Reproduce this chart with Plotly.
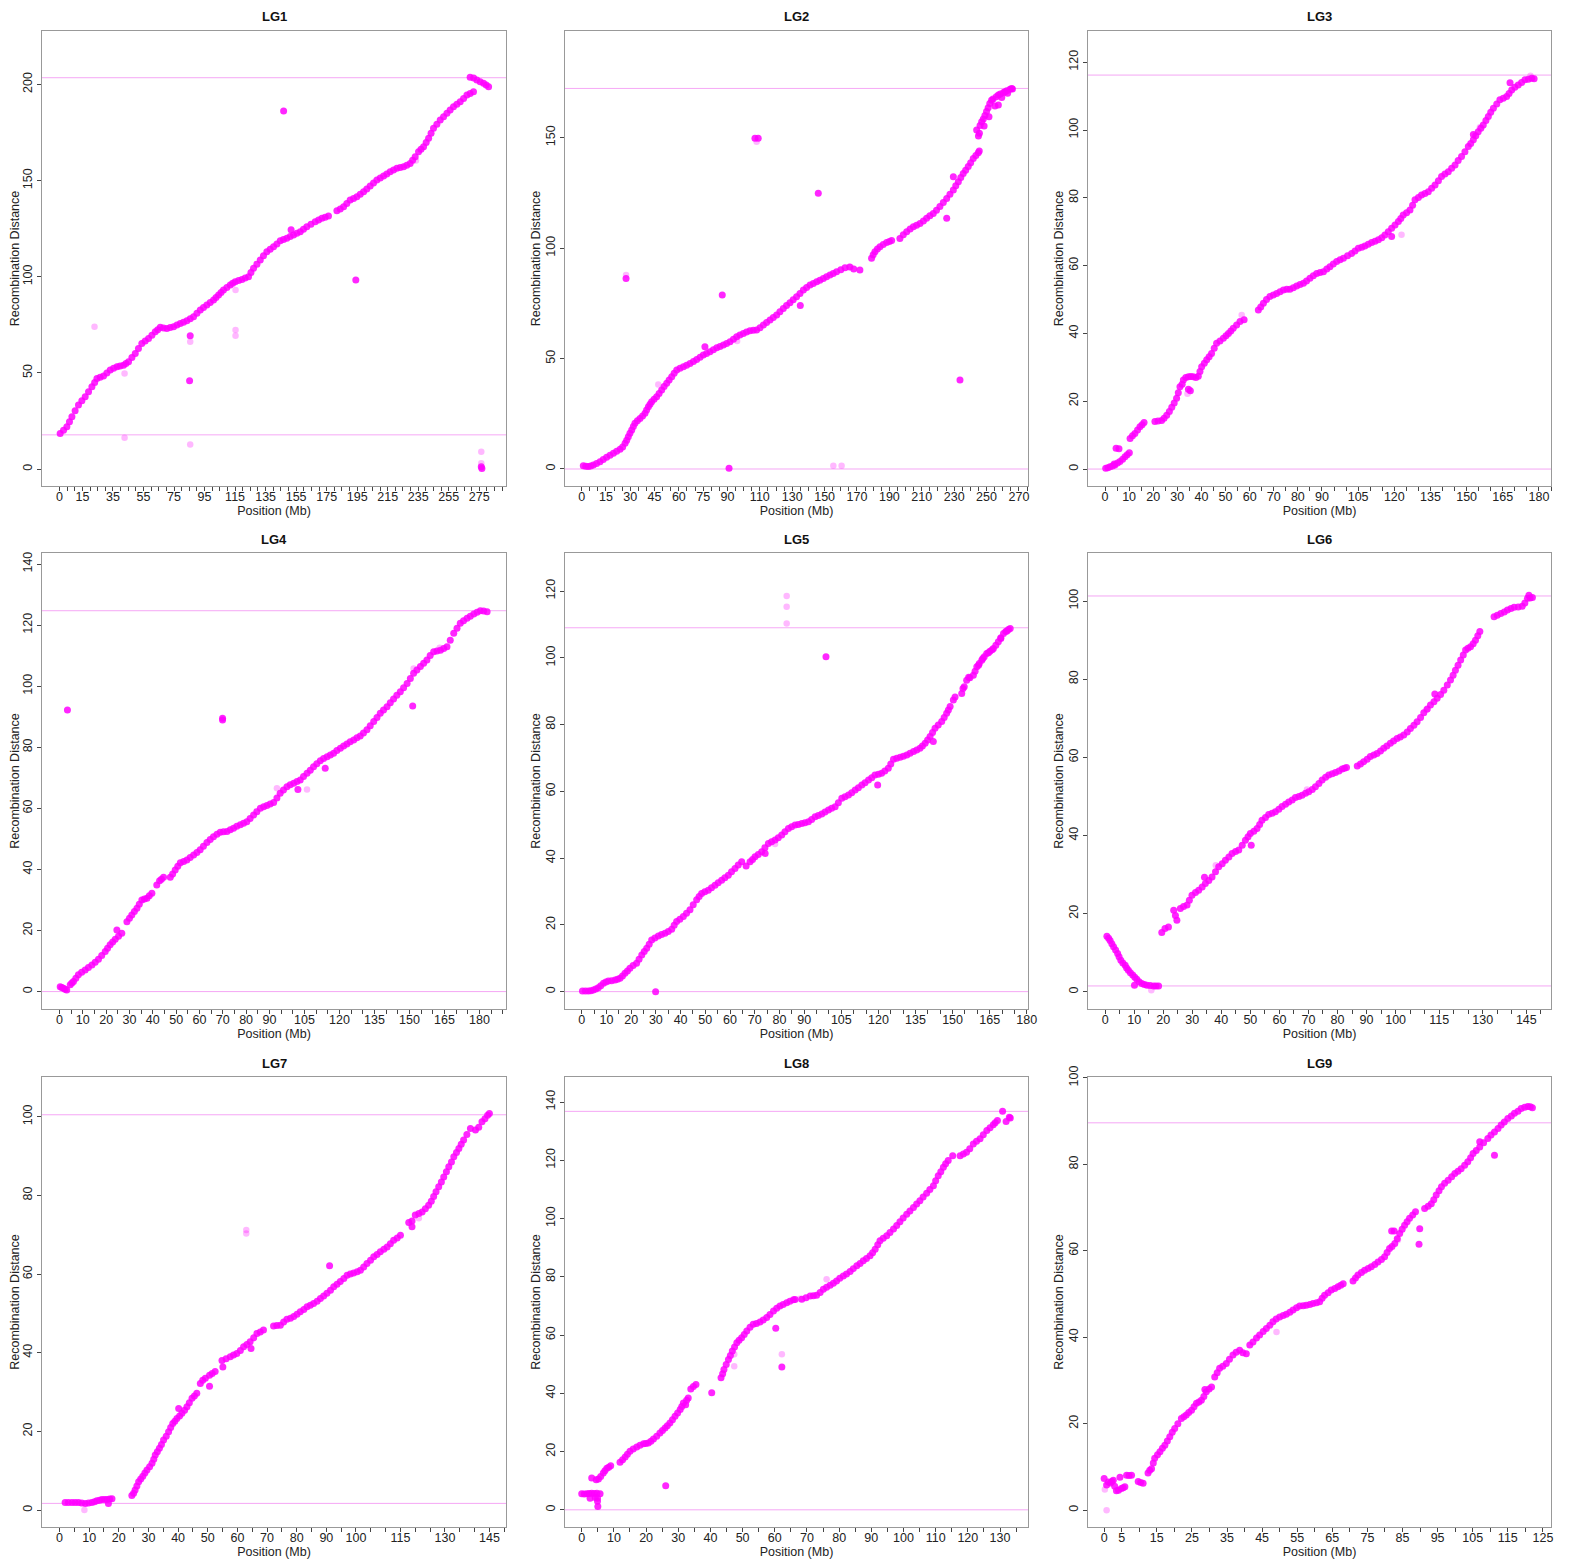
import plotly.graph_objects as go

# ---------------- data ----------------
lg1_x = [0.4, 4.8, 8.1, 12.4, 16.8, 21.2, 24.5, 28.8, 33.2, 37.6, 41.9, 45.2, 49.6, 53.9, 58.3, 62.7, 66, 70.3, 74.7, 79.1,
         83.4, 87.8, 92.2, 96.5, 100.9, 104.2, 107.4, 111.8, 115.1, 119.5, 123.8, 127.1, 131.5, 135.8, 140.2, 144.6, 148.9,
         153.3, 157.7, 162, 167.5, 171.9, 176.2, 181.7, 186.1, 190.4, 194.8, 199.2, 203.5, 207.9, 212.3, 216.6, 221, 225.4,
         229.7, 233, 235.2, 238.5, 241.8, 245, 249.4, 253.8, 258.1, 262.5, 266.9, 271.2, 269, 273.4, 277.8, 281.1,
         276.3, 276.7, 146.8, 194.1, 85.2, 85.6, 2.6, 6.5, 10.2, 14.6, 19, 23, 26.6, 31, 35.4, 39.7, 43.5, 47.4, 51.7,
         56.1, 60.5, 64.3, 68.1, 72.5, 76.9, 81.2, 85.6, 90, 94.3, 98.7, 102.5, 105.8, 109.6, 113.4, 117.3, 121.6, 125.4,
         129.3, 133.6, 138, 142.4, 146.7, 151.1, 155.5, 159.8, 164.7, 169.7, 174, 183.9, 188.2, 192.6, 197, 201.3, 205.7,
         210.1, 214.4, 218.8, 223.2, 227.5, 231.3, 236.8, 240.2, 243.4, 247.2, 251.6, 255.9, 260.3, 264.7, 269, 271.3,
         275.6, 279.5, 151.7]
lg1_y = [18.5, 22, 27.2, 33.3, 37.6, 42.8, 47.1, 48.4, 51.5, 53.2, 54, 55.8, 60.1, 65.3, 67.9, 71.4, 73.7, 73.1, 74, 75.7,
         77.1, 79.2, 82.7, 85.3, 87.9, 90.5, 93.1, 95.7, 97.4, 98.6, 100, 104.4, 108.7, 113, 115.6, 118.7, 120,
         121.7, 123.4, 126, 128.6, 130.4, 131.6, 134.3, 136.4, 139.9, 141.6, 144.2, 147.2, 150.3, 152.4, 154.6, 156.4, 157.2,
         158.9, 162.4, 165, 167.6, 172, 177.2, 181.5, 185, 188.4, 191, 194.5, 196.2, 203.7, 202.3, 200.6, 198.8,
         1.2, 0.3, 186.2, 98.3, 45.9, 69.3, 20.2, 24.6, 30.3, 35.5, 40.2, 45, 47.8, 50, 52.4, 53.6, 54.9, 58, 62.7,
         66.6, 69.6, 72.5, 73.4, 73.6, 74.9, 76.4, 78.2, 81, 84, 86.6, 89.2, 91.8, 94.4, 96.6, 98, 99.3, 102.2,
         106.5, 110.9, 114.3, 117.1, 119.4, 120.9, 122.6, 124.7, 127.3, 129.5, 131, 135.3, 138.1, 140.7, 142.9, 145.7, 148.7,
         151.3, 153.5, 155.5, 156.8, 158, 160.6, 166.3, 169.8, 174.6, 179.3, 183.2, 186.7, 189.7, 192.7, 195.3, 203.4,
         201.4, 199.7, 124.5]
lg1_faint_x = [22.9, 42.6, 42.6, 85.6, 85.6, 115.3, 115.3, 115.3, 38.5, 233.5, 276.3, 276.3]
lg1_faint_y = [74, 49.7, 16.3, 66.2, 12.8, 72.3, 69.3, 93.1, 53.3, 160.5, 9, 3]
lg1_hlines = [203.5, 17.8]

lg2_x = [1.0, 4.1, 7.2, 11.3, 15.4, 19.6, 23.7, 26.8, 28.8, 30.9, 32.9, 36, 39.1, 41.2, 43.2, 46.3, 49.4, 52.5, 55.6, 58.7,
         62.8, 66.9, 71, 75.1, 79.2, 83.4, 87.5, 91.6, 95.7, 99.8, 103.9, 108, 112.2, 116.3, 120.4, 124.5, 128.6, 132.7,
         136.9, 141, 145.1, 149.2, 153.3, 157.4, 162.6, 171.8, 179, 181.1, 184.2, 188.3, 191.4, 196.5, 200.7, 204.8,
         208.9, 213, 217.1, 221.2, 225.4, 229.5, 232.6, 235.6, 238.7, 241.8, 244.9, 243.9, 247, 250, 253.1, 257.3,
         261.4, 264.5, 27.4, 86.8, 91, 107, 109, 146.1, 225.4, 233.6, 76.1, 229.5, 257.3,
         2.5, 5.6, 9.2, 13.3, 17.5, 21.6, 25.3, 27.8, 29.8, 31.9, 34.4, 37.6, 40.1, 42.2, 44.7, 47.8, 50.9, 54, 57.1,
         60.7, 64.8, 69, 73.1, 77.1, 81.3, 85.4, 89.5, 93.7, 97.7, 101.8, 106, 110.1, 114.2, 118.3, 122.4, 126.5, 130.6,
         134.8, 138.9, 143, 147.1, 151.2, 155.3, 160, 165.5, 168, 180, 182.6, 186.2, 190, 198.6, 202.8, 206.8, 211,
         215, 219.1, 223.3, 227.4, 231, 234.1, 237.1, 240.2, 243.4, 245.5, 248.5, 251.5, 255.2, 259.4, 263, 265.5, 135,
         245, 245.6, 246, 248, 249, 251, 252, 254, 256, 258.5, 260.5, 262.5, 266]
lg2_y = [1.5, 1.1, 1.8, 3.3, 5.3, 7.1, 8.9, 11.6, 14.6, 17.7, 20.7, 22.9, 25.2, 28.2, 30.5, 32.7, 35.8, 38.8, 41.8, 44.8,
         46.3, 47.8, 49.6, 51.6, 53.1, 54.9, 56.1, 57.6, 59.9, 61.4, 62.6, 62.9, 65.2, 67.5, 69.7, 72.7, 75.3, 78,
         81, 83.3, 84.8, 86.3, 87.8, 89.3, 91.1, 90.1, 95.4, 98.4, 100.6, 102.5, 103.4, 104.4, 107.4, 109.7,
         111.2, 113.5, 115.7, 118.8, 122.5, 126.3, 130.1, 133.8, 136.9, 140.6, 143.2, 153.5, 157.2, 161.8, 167, 169.3,
         170.8, 171.9, 86.3, 78.8, 0.3, 149.7, 149.7, 124.8, 113.5, 40.3, 55.4, 132.3, 164.8,
         1.2, 1.3, 2.5, 4.3, 6.2, 8, 10, 13, 16.2, 19.2, 21.8, 24, 26.7, 29.3, 31.6, 34.2, 37.3, 40.3, 43.3,
         45.6, 47, 48.7, 50.6, 52.3, 54, 55.5, 56.8, 58.7, 60.7, 62, 62.8, 64, 66.3, 68.6, 71.2, 74, 76.6,
         79.5, 82.2, 84, 85.5, 87, 88.5, 90.2, 91.5, 90.6, 97, 99.6, 101.6, 103, 106, 108.6, 110.4, 112.3,
         114.6, 117.2, 120.6, 124.4, 128.2, 132, 135.3, 138.7, 141.9, 144, 155.3, 159.5, 164.4, 168.2, 170.1, 172.3, 74,
         150.8, 152, 155.5, 158.5, 160, 163.5, 165.5, 167.5, 168.5, 169.8, 170.5, 171.2, 172]
lg2_faint_x = [155.4, 160.5, 47.3, 108, 27.4, 166, 96]
lg2_faint_y = [1.5, 1.5, 38.3, 148.2, 87.8, 91.5, 58]
lg2_hlines = [172.3, 0]

lg3_x = [0.3, 2.1, 4.1, 6.2, 8.3, 10.1, 10.4, 12.4, 14.5, 16.2, 20.7, 23.5, 25.6, 27.7, 29.7, 31.1, 32.5, 34.6, 36.6,
         38.7, 40.1, 42.2, 44.2, 46.3, 49.1, 51.2, 53.2, 56, 57.7, 63.6, 65.7, 68.4, 71.2, 74, 76.7, 79.5, 82.3, 85,
         87.8, 90.6, 93.3, 96.1, 98.9, 102.3, 105.1, 107.8, 110.6, 113.4, 116.1, 118.9, 121.7, 123.7, 126.5, 128.6,
         131.3, 134.1, 136.9, 139.6, 142.4, 145.2, 147.9, 150.7, 152.8, 154.8, 156.9, 159, 161.1, 163.8, 166.6, 168.7,
         171.4, 174.2, 177, 4.6, 5.8, 34.6, 35.4, 118.9, 168, 152.8, 32, 3.8,
         1.2, 3.1, 5.2, 7.3, 9.2, 11.4, 13.5, 15.4, 22, 24.5, 26.7, 28.7, 30.4, 33.5, 35.6, 37.7, 39.4, 41.2, 43.2,
         45.3, 47.7, 50.2, 52.2, 54.6, 64.6, 67, 69.8, 72.6, 75.4, 78.1, 80.9, 83.6, 86.4, 89.2, 92, 94.7, 97.5, 100.6,
         103.7, 106.5, 109.2, 112, 114.8, 117.5, 120.3, 122.7, 125.1, 127.6, 130, 132.7, 135.5, 138.3, 141, 143.8,
         146.5, 149.3, 151.7, 153.8, 155.9, 158, 160, 162.5, 165.2, 167.6, 170, 172.8, 175.6, 178]
lg3_y = [0.2, 0.7, 1.2, 2.2, 3.6, 4.8, 9, 10.5, 12.5, 13.7, 14, 14.3, 15.9, 18.2, 20.9, 24.3, 26.3, 27.2, 27.2,
         27.4, 30.2, 32.2, 34.1, 37.1, 38.6, 40, 41.5, 43.5, 44, 46.9, 48.9, 50.9, 51.8, 52.8, 53, 54, 54.8, 56.3,
         57.7, 58.2, 59.7, 61.2, 62.2, 63.6, 65.1, 65.8, 66.8, 67.6, 69, 71, 73, 74.9, 76.4, 79.4,
         80.8, 81.8, 83.8, 86.3, 87.7, 89.7, 92.2, 95.1, 97.1, 99.5, 101.5, 104, 106.4, 108.9, 109.9, 111.8,
         113.3, 114.8, 115.3, 6.1, 6.0, 23.5, 23.1, 68.6, 113.9, 98.7, 25, 1.5,
         0.4, 0.9, 1.8, 2.9, 4.2, 9.8, 11.5, 13.1, 14.2, 15, 17, 19.5, 22.5, 27, 27.3, 27, 28.8, 31.2, 33.1,
         35.6, 37.8, 39.3, 40.7, 42.5, 47.8, 50, 51.3, 52.3, 53, 53.5, 54.4, 55.5, 57, 58, 59, 60.5, 61.7, 62.9,
         64.3, 65.4, 66.3, 67.2, 68.2, 70, 72, 73.9, 75.6, 77.8, 80.1, 81.3, 82.8, 85, 87, 88.7,
         91, 93.6, 96, 98.3, 100.5, 102.8, 105.2, 107.7, 109.4, 110.8, 112.6, 114, 115, 115.1]
lg3_faint_x = [123, 56.7, 34.2, 155.5, 176.5]
lg3_faint_y = [69.1, 45.4, 22.2, 100.8, 116]
lg3_hlines = [116.2, 0]

lg4_x = [0.3, 1.7, 3.1, 4.6, 6, 8.1, 11, 13.9, 16.7, 19.6, 21.7, 23.9, 26.7, 28.9, 31, 33.2, 35.3, 37.5, 39.6, 42.9,
         44.6, 47.5, 49.6, 51.8, 54.6, 57.5, 60.3, 63.2, 66, 68.9, 71.8, 74.6, 77.5, 80.3, 83.2, 86.1, 88.9, 91.8,
         94.6, 97.5, 100.4, 103.2, 106.1, 108.9, 111.8, 114.7, 117.5, 120.4, 123.2, 126.1, 128.9, 131.8, 134.7, 137.5,
         140.4, 143.2, 146.1, 149, 151.8, 154.7, 157.5, 160.4, 163.3, 166.1, 169, 171.8, 174.7, 177.6, 180.4, 183.3,
         3.4, 69.9, 69.9, 151.4, 113.9, 102.2, 41.7, 24.6,
         1, 2.4, 5.3, 7, 9.5, 12.4, 15.3, 18.1, 20.6, 22.8, 25.3, 30, 32.1, 34.2, 36.4, 38.5, 43.7, 48.5, 50.7, 53.2,
         56, 58.9, 61.7, 64.6, 67.5, 70.3, 73.2, 76, 78.9, 81.7, 84.6, 87.5, 90.3, 93.2, 96, 98.9, 101.8, 104.6,
         107.5, 110.3, 113.2, 116.1, 118.9, 121.8, 124.6, 127.5, 130.3, 133.2, 136.1, 138.9, 141.8, 144.6, 147.5, 150.4,
         153.2, 156.1, 158.9, 161.8, 164.7, 167.5, 170.4, 173.2, 176.1, 179, 181.8]
lg4_y = [1.6, 1.1, 0.5, 2.2, 3.3, 5.5, 7.1, 8.7, 10.6, 13.1, 15.3, 17.1, 19.1, 22.9, 25.1, 27.3, 30, 30.6, 32.2, 36.3,
         37.4, 37.4, 39.8, 42.2, 43.1, 44.7, 46.4, 48.8, 50.7, 52.2, 52.4, 53.5, 54.6, 55.6, 57.8, 60, 60.9, 61.9,
         64.9, 67.1, 68.2, 69.3, 71.5, 73.6, 75.6, 76.9, 78, 79.7, 81.1, 82.4, 83.7, 85.7, 88.4, 91.1,
         93.3, 95.8, 98.2, 100.9, 104.2, 106.4, 108.6, 111.3, 111.8, 112.9, 117.3, 120.6, 122.2, 123.6, 124.7, 124.4,
         92.2, 88.9, 89.5, 93.5, 73.1, 66.2, 34.9, 20.2,
         1.3, 0.8, 2.8, 4.4, 6.3, 7.9, 9.6, 11.8, 14.2, 16.2, 18.1, 24, 26.2, 28.6, 30.3, 31.4, 36.8, 38.5, 41, 42.6,
         43.9, 45.5, 47.6, 49.8, 51.5, 52.3, 53, 54.1, 55.1, 56.7, 58.9, 60.5, 61.4, 63.4, 66, 67.7, 68.8, 70.4,
         72.5, 74.6, 76.3, 77.5, 78.9, 80.4, 81.8, 83.1, 84.7, 87, 89.7, 92.2, 94.6, 97, 99.5, 102.5,
         105.3, 107.5, 110, 111.5, 112.3, 115, 119, 121.4, 122.9, 124.2, 124.6]
lg4_faint_x = [106.1, 93.2, 151.8, 163]
lg4_faint_y = [66.2, 66.6, 105.8, 112.6]
lg4_hlines = [124.7, 0]

lg5_x = [0.3, 2.7, 4.7, 6.7, 8.8, 10.8, 13.5, 15.5, 17.5, 19.5, 22.2, 24.3, 26.3, 28.3, 31, 33.7, 36.4, 38.4, 41.1,
         43.8, 46.5, 48.5, 51.2, 53.9, 56.6, 59.3, 62, 64.7, 68.1, 70.1, 72.8, 75.5, 78.2, 80.9, 83.6, 86.3, 89,
         91.7, 94.4, 97.1, 99.8, 102.5, 105.2, 107.9, 110.6, 113.3, 116, 118.6, 121.3, 124, 126.1, 128.8, 131.5,
         134.2, 136.8, 138.9, 140.9, 142.9, 145.6, 147.6, 149, 150.3, 153.7, 155.7, 158.4, 159.8, 161.8, 163.8,
         166.5, 168.5, 170.6, 173.3, 29.9, 98.8, 119.7, 142.2, 74.2, 66.5,
         1.5, 3.7, 5.7, 7.7, 9.8, 12.1, 14.5, 16.5, 18.5, 20.8, 23.2, 25.3, 27.3, 29.6, 32.3, 35, 37.4, 39.7, 42.4,
         45.1, 47.5, 49.8, 52.5, 55.2, 57.9, 60.6, 63.3, 69.1, 71.4, 74.1, 76.8, 79.5, 82.2, 84.9, 87.6, 90.3, 93,
         95.7, 98.4, 101.1, 103.8, 106.5, 109.2, 111.9, 114.6, 117.3, 120, 122.6, 125, 127.4, 130.1, 132.8, 135.5,
         137.8, 139.9, 141.9, 144.2, 146.6, 148.3, 154.7, 157, 159.1, 160.8, 162.8, 165.1, 167.5, 169.5, 172, 172.6,
         151, 154.2, 156.5, 160.5, 162.2, 164.5, 166, 169.5, 171.5]
lg5_y = [0.2, 0.2, 0.5, 1.2, 2.5, 3.2, 3.5, 4, 5.5, 7, 8.5, 11, 13, 15.5, 16.7, 17.5, 18.7, 21, 22.5,
         24.5, 27.5, 29.4, 30.4, 31.9, 33.4, 34.9, 36.9, 38.9, 38.9, 40.4, 41.9, 44.4, 45.4, 46.9, 48.9, 49.9, 50.4,
         50.9, 52.4, 53.2, 54.4, 55.4, 57.9, 58.9, 60.4, 61.9, 63.4, 64.9, 65.4, 66.9, 69.6, 70.2, 70.9,
         71.9, 72.9, 74.4, 76.4, 78.9, 80.9, 83.4, 85.4, 87.4, 89.3, 93.3, 94.8, 97.3, 99.3, 101.3,
         102.8, 104.8, 107.3, 108.8, 0, 100.3, 61.9, 74.9, 41.4, 37.6,
         0.2, 0.3, 0.8, 1.8, 2.9, 3.3, 3.7, 4.7, 6.2, 7.8, 9.7, 12, 14.2, 16.1, 17.1, 18, 19.9, 21.7, 23.5,
         26, 28.5, 29.9, 31.1, 32.6, 34.1, 35.9, 37.9, 39.6, 41.1, 43.1, 44.9, 46.1, 47.9, 49.4, 50.1, 50.6, 51.6,
         52.8, 53.8, 54.9, 56.6, 58.4, 59.6, 61.1, 62.6, 64.1, 65.1, 66.1, 68.2, 69.9, 70.5, 71.4, 72.4,
         73.6, 75.4, 77.6, 79.9, 82.1, 84.4, 91.3, 94, 96, 98.3, 100.3, 102, 103.8, 106, 108, 108.5,
         88.3, 90.8, 94.2, 97.8, 99.8, 101.5, 102.4, 105.8, 107.9]
lg5_faint_x = [82.9, 82.9, 82.9, 78.2]
lg5_faint_y = [118.5, 115.3, 110.3, 44.2]
lg5_hlines = [109.0, 0]

lg6_x = [0.6, 1.7, 2.9, 4.3, 5.4, 6.9, 8, 9.5, 10.9, 12.6, 14.4, 16.7, 18.4, 19.5, 21.8, 23.6, 24.7, 25.9, 28.2, 29.9,
         32.2, 34.5, 36.8, 39.1, 41.4, 43.7, 46, 48.3, 50, 52.3, 54, 56.3, 58.6, 60.9, 63.2, 65.5, 67.8, 70.1, 72.4,
         74.7, 77, 79.3, 81.6, 83.1, 86.8, 89, 91.3, 93.6, 95.9, 98.2, 100.5, 102.8, 105.1, 107.4, 109.7, 112, 114.3,
         116.6, 118.9, 120.6, 122.4, 124.1, 125.8, 127.5, 129, 133.9, 136.2, 138.5, 140.8, 143.6, 145.4, 147.1,
         113.5, 50.3, 34.2, 145.9, 10.1,
         1.2, 2.3, 3.6, 4.8, 6.1, 7.4, 8.7, 10.2, 11.7, 13.5, 15.5, 17.5, 20.6, 24.2, 27, 29, 31.1, 33.4, 35.7, 38,
         40.3, 42.6, 44.9, 47.2, 49.2, 51.2, 53.2, 55.2, 57.5, 59.8, 62.1, 64.4, 66.7, 69, 71.3, 73.6, 75.9, 78.2,
         80.5, 82.4, 87.9, 90.2, 92.5, 94.8, 97, 99.3, 101.6, 104, 106.3, 108.6, 110.9, 113.2, 115.5, 117.8, 119.8,
         121.5, 123.3, 124.9, 126.7, 128.3, 135, 137.4, 139.7, 142.2, 144.5, 146.3]
lg6_y = [14.2, 13.1, 11.5, 9.8, 8.1, 6.8, 5.5, 4.3, 3.2, 2.1, 1.7, 1.5, 1.5, 15.2, 16.6, 20.9, 18.3, 21.3, 22.2, 24.7,
         26, 27.7, 29.4, 32, 33.7, 35.4, 36.3, 38.8, 40.5, 41.8, 43.9, 45.4, 46.1, 47.4, 48.6, 49.7, 50.3, 51.2, 52.5,
         54.2, 55.5, 56.1, 57, 57.4, 57.8, 58.9, 60.2, 61, 62.3, 63.6, 64.8, 65.7, 67.4, 69.1, 71.4, 73.4, 75.1,
         77.2, 79.8, 82.3, 84.9, 87.5, 88.3, 90, 92.2, 96, 96.8, 97.7, 98.4, 98.7, 100.7, 100.9,
         76.2, 37.5, 29.3, 101.5, 1.7,
         13.7, 12.3, 10.7, 9, 7.4, 6.1, 4.9, 3.7, 2.6, 1.9, 1.6, 1.5, 16.2, 19.5, 21.8, 23.4, 25.4, 26.8, 28.5, 30.7,
         32.8, 34.5, 35.9, 37.5, 39.7, 41.1, 42.8, 44.6, 45.7, 46.7, 48, 49.1, 50, 50.8, 51.8, 53.3, 54.9, 55.8,
         56.5, 57.2, 58.3, 59.5, 60.6, 61.6, 62.9, 64.2, 65.2, 66.5, 68.2, 70.2, 72.4, 74.2, 76.1, 78.5, 81,
         83.6, 86.2, 87.9, 89.1, 91.1, 96.4, 97.2, 98.1, 98.5, 99.5, 100.8]
lg6_faint_x = [38.1, 15.9, 69.5, 110.5]
lg6_faint_y = [32.4, 0.4, 51.8, 72.1]
lg6_hlines = [101.3, 1.5]

lg7_x = [1.9, 4.2, 6.4, 8.7, 10.9, 12.6, 14.3, 16, 17.7, 24.4, 25.5, 26.7, 28.1, 29.5, 31.2, 32.3, 33.7, 35.1, 36.8,
         38.2, 39.6, 41.3, 43, 44.7, 46.3, 47.5, 49.2, 50.6, 52.5, 54.8, 57.6, 59.8, 62.1, 64.3, 66.6, 68.8, 72.2,
         74.5, 76.7, 79, 81.2, 83.5, 85.7, 88, 90.2, 92.5, 94.7, 97, 99.2, 101.5, 103.7, 106, 108.2, 110.5, 112.7,
         115, 117.8, 120, 122.3, 124.5, 126.2, 127.9, 129.6, 131.3, 133, 134.7, 136.3, 138.6, 140.3, 142.5, 144.4,
         91.1, 16.5, 50.6, 40.2, 55.1, 118.9, 64.6,
         3, 5.3, 7.5, 9.8, 11.8, 13.5, 15.2, 16.9, 25, 26.1, 27.4, 28.8, 30.4, 31.8, 33, 34.4, 36, 37.5, 38.9,
         40.5, 42.2, 43.8, 45.5, 48.3, 51.5, 56.2, 58.7, 61, 63.2, 65.5, 67.7, 73.3, 75.6, 77.9, 80.1, 82.4, 84.6,
         86.9, 89.1, 91.4, 93.6, 95.9, 98.1, 100.4, 102.6, 104.9, 107.1, 109.4, 111.6, 113.9, 118.9, 121.2, 123.4,
         125.4, 127, 128.8, 130.5, 132.2, 133.9, 135.5, 137.4, 141.4, 143.5, 145]
lg7_y = [1.9, 1.9, 1.9, 1.7, 1.9, 2.4, 2.7, 2.7, 2.9, 3.7, 5.1, 7.2, 8.6, 10.2, 11.9, 14, 15.7, 17.8, 19.9,
         22, 23.3, 24.6, 26.3, 28.4, 29.7, 32.2, 33.5, 34.3, 35.2, 38, 39, 39.8, 41.5, 42.8, 44.9, 45.8, 46.8,
         47, 48.5, 49.2, 50.4, 51.7, 52.5, 53.8, 55.1, 56.8, 58.1, 59.7, 60.3, 61, 62.7, 64.4, 65.7, 66.9, 68.6,
         69.9, 73.1, 75, 75.8, 77.5, 79.7, 82.2, 84.7, 87.3, 89.8, 91.9, 94.1, 97, 96.6, 98.7, 100.4,
         62.1, 1.7, 31.5, 25.8, 36.4, 72, 41.1,
         1.9, 1.9, 1.8, 1.8, 2.1, 2.5, 2.7, 2.8, 4.3, 6.1, 7.9, 9.4, 11, 12.9, 14.8, 16.7, 18.8, 21, 22.6,
         23.9, 25.4, 27.3, 29, 33, 34.7, 38.5, 39.4, 40.6, 42.1, 43.8, 45.3, 46.9, 47.8, 48.8, 49.8, 51, 52.1,
         53.1, 54.4, 55.9, 57.4, 58.9, 60, 60.6, 61.8, 63.5, 65, 66.3, 67.7, 69.2, 73.5, 75.4, 76.6,
         78.5, 80.9, 83.4, 86, 88.5, 90.9, 93, 95.5, 97.3, 99.5, 100.8]
lg7_faint_x = [63, 63, 8.4, 121.2]
lg7_faint_y = [71.2, 70.3, 0, 74.2]
lg7_hlines = [100.5, 1.7]

lg8_x = [0, 1.6, 3.1, 4.7, 5.7, 4.9, 5, 2.6, 3.1, 5.2, 6.7, 7.8, 9, 11.9, 13.5, 15, 17.1, 19.2, 20.7, 22.3, 24.3, 25.9,
         27.4, 29, 30.6, 31.6, 33.1, 33.9, 35.5, 40.4, 43.3, 44.2, 45.6, 46.8, 48.2, 49.7, 51.3, 53.3, 55.4, 57.5,
         59.6, 61.6, 63.7, 65.8, 68.4, 71, 73, 75.1, 77.2, 79.2, 81.3, 83.4, 85.5, 87.5, 89.6, 91.2, 92.7, 94.8,
         96.9, 98.9, 101, 103.1, 105.1, 107.2, 109.3, 110.8, 112.4, 113.9, 117.6, 119.6, 121.7, 123.8, 125.9, 127.9,
         129.2, 130.8, 131.9, 132.9, 26.1, 60.3, 62.2, 115.3, 32.3,
         0.8, 2.3, 3.9, 4.2, 4.9, 4.5, 5.9, 7.2, 8.4, 12.7, 14.2, 16, 18.1, 19.9, 21.5, 23.3, 25.1, 26.6, 28.2, 29.8,
         31.1, 32.6, 34.7, 43.8, 44.9, 46.2, 47.5, 48.9, 50.5, 52.3, 54.3, 56.4, 58.5, 60.6, 62.6, 64.7, 66.3,
         69.7, 72, 74.1, 76.1, 78.2, 80.2, 82.3, 84.4, 86.5, 88.5, 90.4, 92, 93.7, 95.8, 97.9, 99.9, 102, 104.1,
         106.1, 108.2, 110, 111.6, 113.1, 118.6, 120.6, 122.7, 124.8, 126.9, 128.5, 133.2]
lg8_y = [5.5, 5.5, 5.7, 5.7, 5.5, 2.9, 1.1, 4, 10.9, 10.6, 12.6, 14.3, 15.1, 16.3, 18.1, 20.1, 21.6, 22.7, 22.9, 24.3,
         26.4, 28.1, 29.8, 32.1, 34.4, 36.7, 38.4, 41.5, 43, 40.2, 45.3, 48.2, 51.6, 54.5, 57.4, 59.1, 61.4, 63.7,
         64.5, 66, 68.3, 70, 71.1, 72.1, 72.3, 73.4, 73.7, 75.7, 77.1, 78.6, 80.3, 81.8, 83.8, 85.5, 87.2, 89.5,
         92.4, 94.1, 96.4, 98.9, 101.5, 103.8, 106.1, 108.7, 111.3, 114.7, 117.6, 119.9, 121.6, 122.8, 125.6,
         127.4, 130.2, 132.2, 133.7, 136.8, 133.3, 134.8, 8.3, 62.3, 49, 121.6, 36.1,
         5.4, 5.6, 5.6, 4.2, 4, 10.3, 11.4, 13.4, 14.6, 17.2, 19.1, 20.9, 22.2, 22.8, 23.5, 25.3, 27.2, 28.9, 30.9,
         33.2, 35.5, 37.6, 42.3, 46.7, 49.9, 53, 55.9, 58.2, 60.2, 62.7, 64, 65.2, 67.1, 69.2, 70.5, 71.6, 72.2,
         72.8, 73.5, 74.6, 76.4, 77.8, 79.5, 81, 82.8, 84.6, 86.3, 88.3, 91, 93.2, 95.2, 97.6, 100.2, 102.6, 105,
         107.4, 110, 113, 116.1, 118.8, 122.2, 124, 126.5, 128.8, 131.2, 132.9, 134.5]
lg8_faint_x = [62.2, 47.4, 47.4, 76.1, 67.8]
lg8_faint_y = [53.4, 49.3, 53.4, 79.2, 72.5]
lg8_hlines = [136.8, 0]

lg9_x = [0, 0.7, 1.8, 2.6, 3.5, 4.9, 5.9, 4.5, 6.4, 7.8, 9.7, 11.1, 12.5, 13.5, 14.4, 15.9, 17.3, 18.7, 20.1, 22, 23.4,
         24.9, 26.3, 27.7, 29.1, 30.6, 31.5, 32.9, 34.8, 36.7, 38.6, 40.5, 42.4, 44.3, 46.2, 48.1, 50, 51.9, 53.8,
         55.7, 57.6, 59.5, 61.4, 62.8, 64.7, 66.6, 68.1, 70.9, 72.3, 74.2, 76.1, 78, 79.9, 81.3, 82.8, 84.2, 85.6,
         87, 88.7, 91.3, 93.2, 94.6, 96.1, 98, 99.9, 101.7, 103.6, 105.1, 107, 109.3, 111.2, 113.1, 115, 116.9,
         118.8, 120.7, 122, 82.6, 81.9, 89.7, 89.9, 111.2, 107, 28.7,
         1.2, 2.2, 3, 4.1, 5.4, 7.1, 10.4, 13, 14, 15.2, 16.6, 18, 19.4, 21, 22.7, 24.1, 25.6, 27, 28.4, 29.9,
         32.2, 33.8, 35.7, 37.6, 39.5, 41.5, 43.4, 45.3, 47.2, 49, 51, 52.9, 54.8, 56.7, 58.6, 60.5, 62.1, 63.8,
         65.7, 67.4, 71.6, 73.3, 75.2, 77.1, 79, 80.6, 82, 83.5, 84.9, 86.3, 87.9, 92.3, 93.9, 95.4, 97, 99, 100.8,
         102.7, 104.4, 106, 108.1, 110.2, 112.2, 114, 116, 117.9, 119.8, 121.4]
lg9_y = [7.3, 5.8, 6.3, 6.9, 4.5, 5, 5.4, 7.6, 8.1, 8.1, 6.6, 6.2, 8.6, 9.6, 12, 13.5, 15, 17, 18.9, 21.2, 22,
         23.1, 24.7, 25.4, 27.4, 28.5, 30.8, 32.8, 33.9, 35.9, 37, 36.2, 38.9, 40.5, 42, 43.6, 44.7, 45.3, 46.3,
         47.2, 47.4, 47.8, 48.2, 49.7, 50.9, 51.7, 52.4, 53, 54.4, 55.5, 56.3, 57.4, 58.6, 60.5, 61.7, 64, 65.9,
         67.5, 69, 69.8, 70.9, 72.9, 74.8, 76.3, 77.9, 79, 80.6, 82.5, 84, 86, 87.5, 89.1, 90.6, 91.8,
         92.9, 93.4, 93.1, 64.6, 64.6, 61.5, 65.1, 82.1, 85.2, 27.9,
         6.5, 6.6, 5.5, 4.6, 5.2, 8, 6.4, 9.2, 10.9, 12.8, 14.3, 16, 18, 20, 21.6, 22.6, 23.9, 25, 26.3, 28,
         31.8, 33.3, 34.9, 36.5, 36.4, 38.2, 39.8, 41.3, 42.8, 44.2, 45, 45.8, 46.8, 47.3, 47.6, 48, 49, 50.3,
         51.3, 52, 53.7, 55, 55.9, 56.8, 58, 59.6, 61, 62.8, 65, 66.7, 68.3, 70.3, 71.8, 73.9, 75.6, 77.1, 78.4,
         79.8, 81.5, 83.2, 85, 86.8, 88.3, 89.8, 91.2, 92.3, 93.2, 93.3]
lg9_faint_x = [0.7, 0.2, 49.1, 83.7]
lg9_faint_y = [0, 4.8, 41.2, 62.5]
lg9_hlines = [89.6]

panel_titles = ["LG1", "LG2", "LG3", "LG4", "LG5", "LG6", "LG7", "LG8", "LG9"]

# x tick labels that are printed (ticks every 5 Mb; other ticks unlabeled)
lg1_xlabels = [0, 15, 35, 55, 75, 95, 115, 135, 155, 175, 195, 215, 235, 255, 275]
lg2_xlabels = [0, 15, 30, 45, 60, 75, 90, 110, 130, 150, 170, 190, 210, 230, 250, 270]
lg3_xlabels = [0, 10, 20, 30, 40, 50, 60, 70, 80, 90, 105, 120, 135, 150, 165, 180]
lg4_xlabels = [0, 10, 20, 30, 40, 50, 60, 70, 80, 90, 105, 120, 135, 150, 165, 180]
lg5_xlabels = [0, 10, 20, 30, 40, 50, 60, 70, 80, 90, 105, 120, 135, 150, 165, 180]
lg6_xlabels = [0, 10, 20, 30, 40, 50, 60, 70, 80, 90, 100, 115, 130, 145]
lg7_xlabels = [0, 10, 20, 30, 40, 50, 60, 70, 80, 90, 100, 115, 130, 145]
lg8_xlabels = [0, 10, 20, 30, 40, 50, 60, 70, 80, 90, 100, 110, 120, 130]
lg9_xlabels = [0, 5, 15, 25, 35, 45, 55, 65, 75, 85, 95, 105, 115, 125]

lg1_ylabels = [0, 50, 100, 150, 200]
lg2_ylabels = [0, 50, 100, 150]
lg3_ylabels = [0, 20, 40, 60, 80, 100, 120]
lg4_ylabels = [0, 20, 40, 60, 80, 100, 120, 140]
lg5_ylabels = [0, 20, 40, 60, 80, 100, 120]
lg6_ylabels = [0, 20, 40, 60, 80, 100]
lg7_ylabels = [0, 20, 40, 60, 80, 100]
lg8_ylabels = [0, 20, 40, 60, 80, 100, 120, 140]
lg9_ylabels = [0, 20, 40, 60, 80, 100]

# ---------------- figure ----------------
PAGE_W, PAGE_H = 1570, 1568
OFF = 8                                   # default body margin of the html page
W, H = PAGE_W - 2 * OFF, PAGE_H - 2 * OFF  # figure size so the page fits the window
col_px = [(42, 506), (565, 1028), (1088, 1551)]   # plot boxes in page pixels
row_px = [(31, 486), (553, 1009), (1077, 1527)]
x_ranges = [[-11.5, 292.5], [-10.3, 275.6], [-7.05, 185], [-7.5, 191.4], [-6.75, 180.5],
            [-5.9, 153.5], [-5.9, 150.6], [-5.2, 138.7], [-4.6, 127.3]]
y_ranges = [[-8.8, 227.8], [-7.7, 198.3], [-5.0, 129.2], [-5.7, 143.6], [-5.2, 131.4],
            [-4.4, 112.3], [-4.3, 110.1], [-5.9, 148.6], [-3.9, 100.2]]


def fx_(p):
    return (p - OFF) / W


def fy_(p):
    return 1 - (p - OFF) / H


panels = [
    (lg1_x, lg1_y, lg1_faint_x, lg1_faint_y, lg1_hlines, lg1_xlabels, lg1_ylabels),
    (lg2_x, lg2_y, lg2_faint_x, lg2_faint_y, lg2_hlines, lg2_xlabels, lg2_ylabels),
    (lg3_x, lg3_y, lg3_faint_x, lg3_faint_y, lg3_hlines, lg3_xlabels, lg3_ylabels),
    (lg4_x, lg4_y, lg4_faint_x, lg4_faint_y, lg4_hlines, lg4_xlabels, lg4_ylabels),
    (lg5_x, lg5_y, lg5_faint_x, lg5_faint_y, lg5_hlines, lg5_xlabels, lg5_ylabels),
    (lg6_x, lg6_y, lg6_faint_x, lg6_faint_y, lg6_hlines, lg6_xlabels, lg6_ylabels),
    (lg7_x, lg7_y, lg7_faint_x, lg7_faint_y, lg7_hlines, lg7_xlabels, lg7_ylabels),
    (lg8_x, lg8_y, lg8_faint_x, lg8_faint_y, lg8_hlines, lg8_xlabels, lg8_ylabels),
    (lg9_x, lg9_y, lg9_faint_x, lg9_faint_y, lg9_hlines, lg9_xlabels, lg9_ylabels),
]

FONT = "Liberation Sans, Arial, Helvetica, sans-serif"
MAG = "rgba(255,0,255,0.85)"
FAINT = "rgba(255,0,255,0.28)"
LINE = "rgba(240,120,240,0.65)"

fig = go.Figure()
layout = dict(width=W, height=H, margin=dict(l=0, r=0, t=0, b=0, autoexpand=False),
              paper_bgcolor="white", plot_bgcolor="white", showlegend=False,
              font=dict(family=FONT, size=12, color="#222"))
annotations = []
shapes = []

for i, (px, py, fx, fy, hl, xl, yl) in enumerate(panels):
    r, c = divmod(i, 3)
    n = "" if i == 0 else str(i + 1)
    xa, ya = "x" + n, "y" + n
    x0, x1 = col_px[c]
    y0, y1 = row_px[r]
    xmax = x_ranges[i][1]
    tv = list(range(0, int(xmax) + 1, 5))
    tt = [str(v) if v in xl else "" for v in tv]
    layout["xaxis" + n] = dict(
        domain=[fx_(x0), fx_(x1)], range=x_ranges[i], anchor=ya, automargin=False,
        tickmode="array", tickvals=tv, ticktext=tt, ticks="outside", ticklen=4,
        tickcolor="#444", tickfont=dict(size=12.5, color="#222"), ticklabelstandoff=-5,
        showgrid=False, zeroline=False, showline=True, mirror=True, linecolor="#999", linewidth=1,
        title=dict(text="Position (Mb)", font=dict(size=12.5, color="#222"), standoff=0),
    )
    layout["yaxis" + n] = dict(
        domain=[fy_(y1), fy_(y0)], range=y_ranges[i], anchor=xa, automargin=False,
        tickmode="array", tickvals=yl, ticktext=[str(v) for v in yl], ticks="outside", ticklen=4,
        tickcolor="#444", tickangle=-90, tickfont=dict(size=12.5, color="#222"),
        showgrid=False, zeroline=False, showline=True, mirror=True, linecolor="#999", linewidth=1,
        title=dict(text="Recombination Distance", font=dict(size=12.5, color="#222"), standoff=0),
    )
    for h in hl:
        shapes.append(dict(type="line", xref=xa + " domain", yref=ya, x0=0, x1=1, y0=h, y1=h,
                           line=dict(color=LINE, width=1), layer="below"))
    fig.add_trace(go.Scatter(x=fx, y=fy, mode="markers", xaxis=xa, yaxis=ya,
                             marker=dict(size=6.5, color=FAINT, line=dict(width=0))))
    fig.add_trace(go.Scatter(x=px, y=py, mode="markers", xaxis=xa, yaxis=ya,
                             marker=dict(size=7, color=MAG, line=dict(width=0))))
    annotations.append(dict(text="<b>" + panel_titles[i] + "</b>", xref="paper", yref="paper",
                            x=fx_((x0 + x1) / 2), y=fy_(y0 - 14), showarrow=False,
                            font=dict(size=13, color="#111"), xanchor="center", yanchor="middle"))

layout["annotations"] = annotations
layout["shapes"] = shapes
fig.update_layout(**layout)
fig.write_html("out.html")
